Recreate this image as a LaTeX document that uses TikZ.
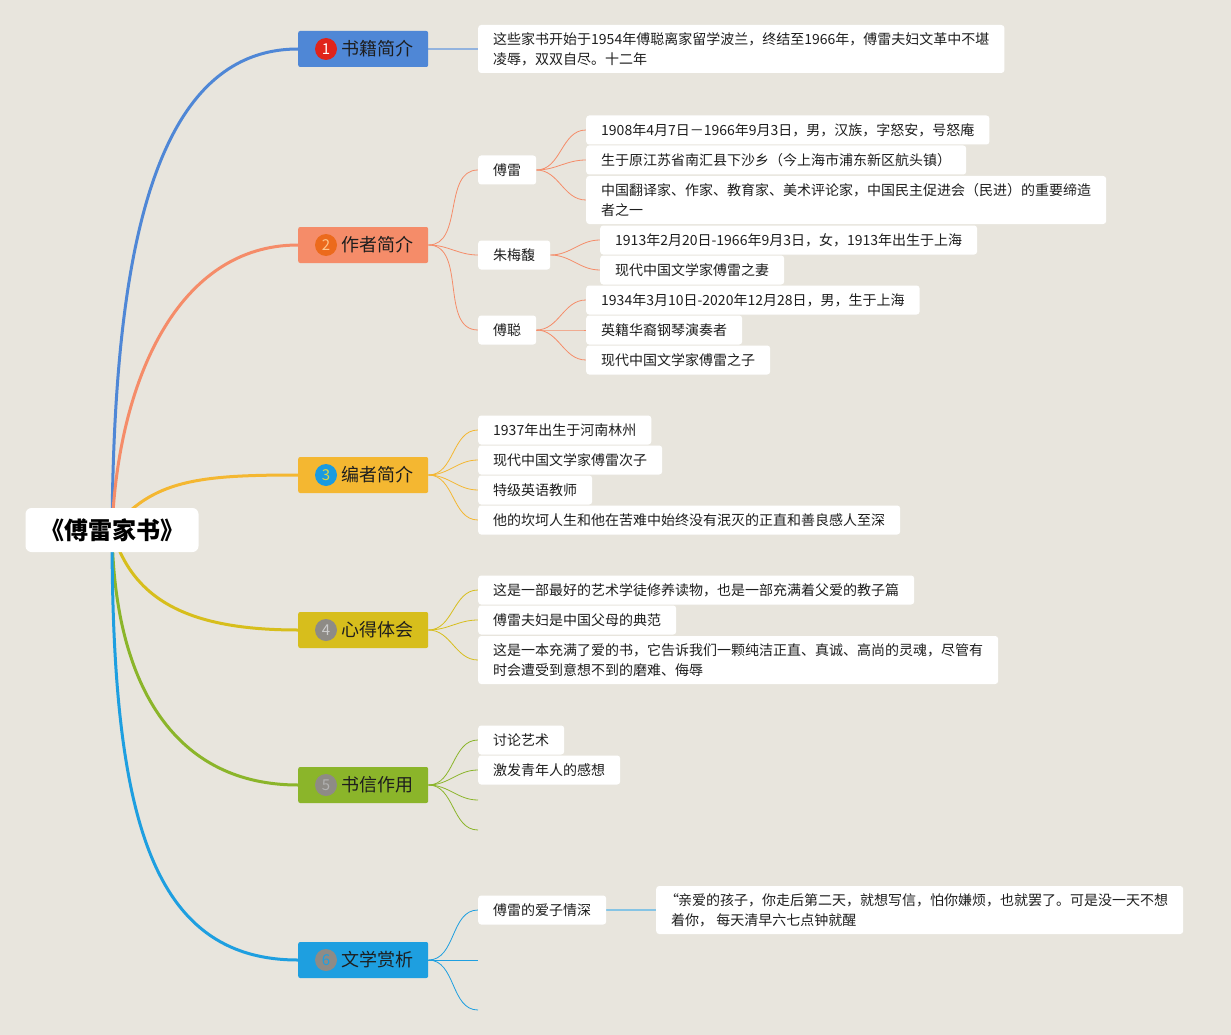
\documentclass[tikz,border=0pt]{standalone}
\usepackage{fontspec}
\setmainfont{Noto Sans CJK SC}
\usetikzlibrary{positioning}
\definecolor{Canvas}{HTML}{E8E5DD}
\definecolor{BlueA}{HTML}{4F87D6}
\definecolor{BlueSoft}{HTML}{93B3DE}
\definecolor{Salmon}{HTML}{F58C69}
\definecolor{Amber}{HTML}{F4B731}
\definecolor{Olive}{HTML}{D7BE1C}
\definecolor{Leaf}{HTML}{8BB52A}
\definecolor{Sky}{HTML}{1E9FE0}
\definecolor{SkySoft}{HTML}{86C4E4}
\definecolor{Ink}{HTML}{1E1E1E}
\definecolor{NumRed}{HTML}{E0241B}
\definecolor{NumOrange}{HTML}{EC6A1C}
\definecolor{NumBlue}{HTML}{1A9BE0}
\definecolor{NumGrey}{HTML}{8E8B86}
\pgfdeclarelayer{canvas}\pgfdeclarelayer{wires}
\pgfsetlayers{canvas,wires,main}
\tikzset{
  root/.style={fill=white,rounded corners=6pt,minimum width=173pt,minimum height=44pt,font=\fontsize{24}{28}\selectfont\bfseries,text=black},
  branch/.style={fill=#1,rounded corners=2pt,minimum width=130pt,minimum height=36pt,inner xsep=14pt,anchor=west,font=\fontsize{18}{22}\selectfont,text=Ink},
  num/.style={circle,fill=#1,minimum size=22pt,inner sep=0pt,font=\fontsize{15}{15}\selectfont},
  leaf/.style={fill=white,rounded corners=3pt,minimum height=29pt,inner xsep=15pt,inner ysep=2pt,anchor=west,align=left,font=\fontsize{14}{20}\selectfont,text=Ink},
  tall/.style={minimum height=48pt},
  twig/.style={draw=#1,line width=.8pt},
  stem/.style={draw=#1,line width=3pt,line cap=round}
}
\begin{document}
\begin{tikzpicture}[x=1pt,y=-1pt]
\begin{pgfonlayer}{canvas}\fill[Canvas] (0,0) rectangle (1231,1035);\end{pgfonlayer}
% centre and main topics
\node[root] (root) at (112,530) {《傅雷家书》};
\node[branch=BlueA] (b1) at (298,49) {\hspace*{28pt}书籍简介};
\node[branch=Salmon] (b2) at (298,245) {\hspace*{28pt}作者简介};
\node[branch=Amber] (b3) at (298,475) {\hspace*{28pt}编者简介};
\node[branch=Olive] (b4) at (298,630) {\hspace*{28pt}心得体会};
\node[branch=Leaf] (b5) at (298,785) {\hspace*{28pt}书信作用};
\node[branch=Sky] (b6) at (298,960) {\hspace*{28pt}文学赏析};
\node[num=NumRed,text=white] (n1) at ([xshift=28pt]b1.west) {1};
\node[num=NumOrange,text=orange!45] (n2) at ([xshift=28pt]b2.west) {2};
\node[num=NumBlue,text=yellow!70!gray] (n3) at ([xshift=28pt]b3.west) {3};
\node[num=NumGrey,text=gray!40] (n4) at ([xshift=28pt]b4.west) {4};
\node[num=NumGrey,text=gray!60] (n5) at ([xshift=28pt]b5.west) {5};
\node[num=NumGrey,text=Sky] (n6) at ([xshift=28pt]b6.west) {6};
\begin{pgfonlayer}{wires}
\draw[stem=BlueA] (root.center) .. controls +(2,-260) and +(-150,0) .. (b1.west);
\draw[stem=Salmon] (root.center) .. controls +(6,-150) and +(-120,0) .. (b2.west);
\draw[stem=Amber] (root.center) .. controls +(40,-50) and +(-100,0) .. (b3.west);
\draw[stem=Olive] (root.center) .. controls +(20,70) and +(-110,0) .. (b4.west);
\draw[stem=Leaf] (root.center) .. controls +(2,160) and +(-120,0) .. (b5.west);
\draw[stem=Sky] (root.center) .. controls +(0,280) and +(-150,0) .. (b6.west);
\end{pgfonlayer}
% 1 书籍简介
\node[leaf,tall] (l1) at (478,49) {这些家书开始于1954年傅聪离家留学波兰，终结至1966年，傅雷夫妇文革中不堪\\凌辱，双双自尽。十二年};
\begin{pgfonlayer}{wires}\draw[draw=BlueSoft,line width=1.5pt] (b1.east) -- (l1.west);\end{pgfonlayer}
% 2 作者简介
\node[leaf] (fl) at (478,170) {傅雷};
\node[leaf] (zm) at (478,255) {朱梅馥};
\node[leaf] (fc) at (478,330) {傅聪};
\foreach \p in {fl,zm,fc}{\begin{pgfonlayer}{wires}\draw[twig=Salmon] (b2.east) to[out=0,in=180] (\p.west);\end{pgfonlayer}}
\foreach \y/\t/\s [count=\i] in {130/{1908年4月7日－1966年9月3日，男，汉族，字怒安，号怒庵}/{},160/{生于原江苏省南汇县下沙乡（今上海市浦东新区航头镇）}/{},200/{中国翻译家、作家、教育家、美术评论家，中国民主促进会（民进）的重要缔造\\者之一}/tall}{
  \node[leaf,\s] (fl\i) at (586,\y) {\t};
  \begin{pgfonlayer}{wires}\draw[twig=Salmon] (fl.east) to[out=0,in=180] (fl\i.west);\end{pgfonlayer}}
\foreach \y/\t [count=\i] in {240/{1913年2月20日-1966年9月3日，女，1913年出生于上海},270/{现代中国文学家傅雷之妻}}{
  \node[leaf] (zm\i) at (600,\y) {\t};
  \begin{pgfonlayer}{wires}\draw[twig=Salmon] (zm.east) to[out=0,in=180] (zm\i.west);\end{pgfonlayer}}
\foreach \y/\t [count=\i] in {300/{1934年3月10日-2020年12月28日，男，生于上海},330/{英籍华裔钢琴演奏者},360/{现代中国文学家傅雷之子}}{
  \node[leaf] (fc\i) at (586,\y) {\t};
  \begin{pgfonlayer}{wires}\draw[twig=Salmon] (fc.east) to[out=0,in=180] (fc\i.west);\end{pgfonlayer}}
% 3 编者简介
\foreach \y/\t [count=\i] in {430/{1937年出生于河南林州},460/{现代中国文学家傅雷次子},490/{特级英语教师},520/{他的坎坷人生和他在苦难中始终没有泯灭的正直和善良感人至深}}{
  \node[leaf] (bz\i) at (478,\y) {\t};
  \begin{pgfonlayer}{wires}\draw[twig=Amber] (b3.east) to[out=0,in=180] (bz\i.west);\end{pgfonlayer}}
% 4 心得体会
\foreach \y/\t/\s [count=\i] in {590/{这是一部最好的艺术学徒修养读物，也是一部充满着父爱的教子篇}/{},620/{傅雷夫妇是中国父母的典范}/{},660/{这是一本充满了爱的书，它告诉我们一颗纯洁正直、真诚、高尚的灵魂，尽管有\\时会遭受到意想不到的磨难、侮辱}/tall}{
  \node[leaf,\s] (xd\i) at (478,\y) {\t};
  \begin{pgfonlayer}{wires}\draw[twig=Olive] (b4.east) to[out=0,in=180] (xd\i.west);\end{pgfonlayer}}
% 5 书信作用
\node[leaf] (sx1) at (478,740) {讨论艺术};
\node[leaf] (sx2) at (478,770) {激发青年人的感想};
\coordinate (sx3) at (478,800);
\coordinate (sx4) at (478,830);
\foreach \p in {sx1,sx2,sx3,sx4}{\begin{pgfonlayer}{wires}\draw[twig=Leaf] (b5.east) to[out=0,in=180] (\p.west);\end{pgfonlayer}}
% 6 文学赏析
\node[leaf] (wx1) at (478,910) {傅雷的爱子情深};
\coordinate (wx2) at (478,960);
\coordinate (wx3) at (478,1010);
\foreach \p in {wx1,wx2,wx3}{\begin{pgfonlayer}{wires}\draw[twig=Sky] (b6.east) to[out=0,in=180] (\p.west);\end{pgfonlayer}}
\node[leaf,tall] (qt) at (656,910) {\kern-6pt“\kern-1pt亲爱的孩子，你走后第二天，就想写信，怕你嫌烦，也就罢了。可是没一天不想\\着你， 每天清早六七点钟就醒};
\begin{pgfonlayer}{wires}\draw[draw=SkySoft,line width=1.5pt] (wx1.east) -- (qt.west);\end{pgfonlayer}
\end{tikzpicture}
\end{document}
